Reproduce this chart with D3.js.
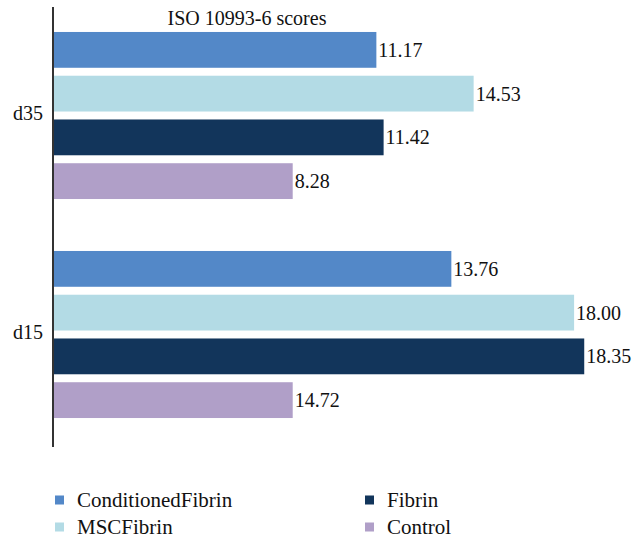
<!DOCTYPE html>
<html><head><meta charset="utf-8">
<script src="https://cdn.jsdelivr.net/npm/d3@7"></script>
<style>body{margin:0;background:#fff}svg{display:block}svg text{font-family:"Liberation Serif","Times New Roman","DejaVu Serif",serif}</style>
</head><body>
<script>
const categories = ["d35", "d15"];
const seriesNames = ["ConditionedFibrin", "MSCFibrin", "Fibrin", "Control"];
const seriesColors = ["#5388c8", "#b3dbe5", "#12355b", "#b09fc8"];
// Value labels as printed
const conditionedFibrin = [11.17, 13.76];
const mscFibrin = [14.53, 18.00];
const fibrin = [11.42, 18.35];
const control = [8.28, 14.72];
// Bar lengths as drawn in the reference (d15 Control bar is drawn at the d35 length)
const controlBarDrawn = [8.28, 8.28];
const title = "ISO 10993-6 scores";

const labelSeries = [conditionedFibrin, mscFibrin, fibrin, control];
const barSeries = [conditionedFibrin, mscFibrin, fibrin, controlBarDrawn];

const W = 639, H = 539;
const svg = d3.select("body").append("svg").attr("width", W).attr("height", H);

const x0 = 53, plotTop = 6;
const x = d3.scaleLinear().domain([0, 1]).range([x0, x0 + 28.95]);
const y = d3.scaleBand().domain(categories).range([plotTop, plotTop + 438]);
const yInner = d3.scaleBand().domain(seriesNames).range([0, 175]).paddingInner(8/44).paddingOuter(4/44);
const groupOffset = (y.bandwidth() - 175) / 2;

const data = [];
categories.forEach((c, ci) => {
  seriesNames.forEach((s, si) => {
    data.push({cat: c, s, color: seriesColors[si], bar: barSeries[si][ci], label: labelSeries[si][ci]});
  });
});

svg.selectAll("rect.bar").data(data).enter().append("rect")
  .attr("class", "bar")
  .attr("x", x(0))
  .attr("y", d => y(d.cat) + groupOffset + yInner(d.s))
  .attr("width", d => x(d.bar) - x(0))
  .attr("height", yInner.bandwidth())
  .attr("fill", d => d.color);

svg.selectAll("text.val").data(data).enter().append("text")
  .attr("class", "val")
  .attr("x", d => x(d.bar) + 2)
  .attr("y", d => y(d.cat) + groupOffset + yInner(d.s) + yInner.bandwidth() / 2)
  .attr("dy", "0.35em")
  .style("font-size", "20px").attr("fill", "#111")
  .text(d => d.label.toFixed(2));

// axis
const axis = d3.axisLeft(y).tickSize(0).tickPadding(10);
const g = svg.append("g").attr("transform", `translate(${x0},0)`).call(axis);
g.attr("font-family", null).attr("font-size", null);
g.select(".domain").attr("stroke", "#333").attr("stroke-width", 2).attr("d", `M0,7V447`);
g.selectAll("text").style("font-size", "20px").attr("fill", "#111").attr("dy", "0.2em");

svg.append("text").attr("x", 247).attr("y", 25).attr("text-anchor", "middle")
  .style("font-size", "20px").attr("fill", "#111").text(title);

// legend
const legPos = [[55, 500], [55, 527], [365, 500], [365, 527]];
seriesNames.forEach((s, i) => {
  const [lx, ly] = legPos[i];
  svg.append("rect").attr("x", lx).attr("y", ly - 4.5).attr("width", 9).attr("height", 9).attr("fill", seriesColors[i]);
  svg.append("text").attr("x", lx + 22).attr("y", ly).attr("dy", "0.35em")
    .style("font-size", "21px").attr("fill", "#111").text(s);
});
</script>
</body></html>
